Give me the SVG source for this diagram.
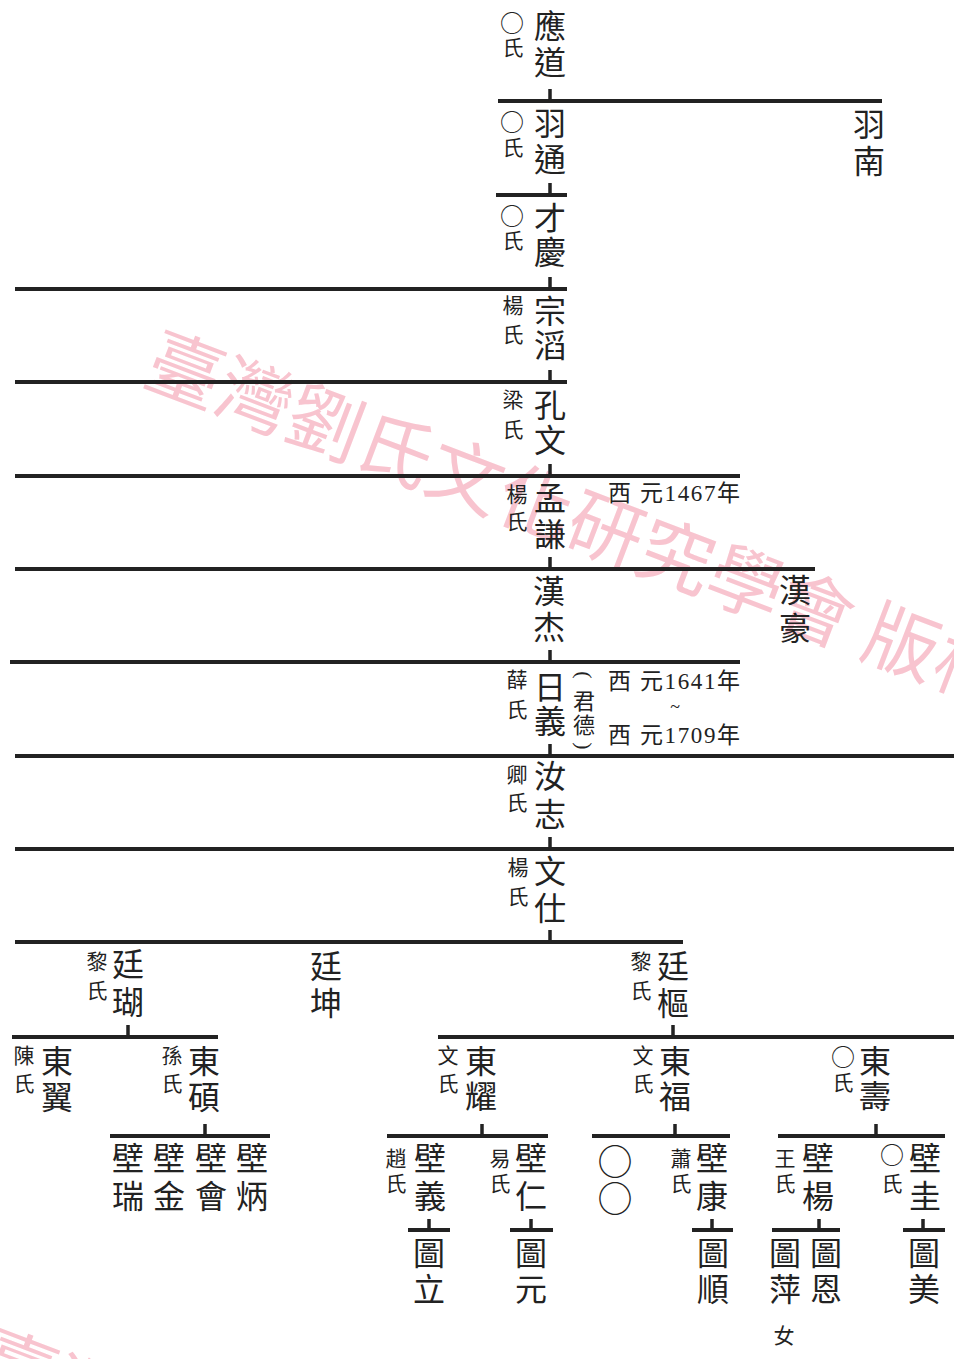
<svg xmlns="http://www.w3.org/2000/svg" width="954" height="1359" viewBox="0 0 954 1359">
<style>
text{font-family:"Liberation Serif","Noto Sans CJK TC",serif;fill:#222;text-anchor:middle;dominant-baseline:central}
.m{font-size:32px}
.s{font-size:21px}
.c{font-size:24px;font-family:"Noto Sans CJK TC",sans-serif}
.yr{font-size:23px;text-anchor:start}
.wm{font-family:"Noto Sans CJK TC",sans-serif;font-size:75px;fill:#f8c4cf;text-anchor:start}
.ln{stroke:#222;stroke-width:4;fill:none}
.tk{stroke:#222;stroke-width:3.5;fill:none}
</style>
<rect width="954" height="1359" fill="#fff"/>
<g id="watermark">
<text class="wm" transform="translate(152,352) rotate(20.8)">臺灣劉氏文化研究學會 版權</text>
<text class="wm" transform="translate(-15,1350) rotate(20.8)">臺灣劉氏文化研究學會 版權</text>
</g>
<g id="connectors">
<path class="ln" d="M498,101H882M496,195H567M15,289H567M15,382H567M15,476H740M15,569H815M10,662H740M15,756H954M15,849H954M15,942H683"/>
<path class="tk" d="M550,89V101M550,183V195M550,277V289M550,370V382M550,464V476M550,557V569M550,650V662M550,744V756M550,837V849M550,930V942"/>
<path class="ln" d="M12,1037H218M438,1037H954M110,1136H270M387,1136H548M592,1136H730M778,1136H945M408,1230H450M510,1230H553M692,1230H733M772,1230H840M903,1230H945"/>
<path class="tk" d="M128,1025V1037M673,1025V1037M205,1124V1136M482,1124V1136M675,1124V1136M876,1124V1136M429,1219V1230M531,1219V1230M712,1219V1230M819,1219V1230M923,1219V1230"/>
</g>
<g id="n-yingdao"><text class="m"><tspan x="550" y="27">應</tspan><tspan x="550" y="63">道</tspan></text><text class="c" x="512" y="21">○</text><text class="s" x="513" y="48">氏</text></g>
<g id="n-yutong"><text class="m"><tspan x="550" y="124">羽</tspan><tspan x="550" y="160">通</tspan></text><text class="c" x="512" y="120">○</text><text class="s" x="513" y="148">氏</text></g>
<g id="n-yunan"><text class="m"><tspan x="869" y="125">羽</tspan><tspan x="869" y="162">南</tspan></text></g>
<g id="n-caiqing"><text class="m"><tspan x="550" y="219">才</tspan><tspan x="550" y="253">慶</tspan></text><text class="c" x="512" y="214">○</text><text class="s" x="513" y="241">氏</text></g>
<g id="n-zongtao"><text class="m"><tspan x="550" y="312">宗</tspan><tspan x="550" y="346">滔</tspan></text><text class="s"><tspan x="513" y="306">楊</tspan><tspan x="513" y="335">氏</tspan></text></g>
<g id="n-kongwen"><text class="m"><tspan x="550" y="406">孔</tspan><tspan x="550" y="441">文</tspan></text><text class="s"><tspan x="513" y="400">梁</tspan><tspan x="513" y="430">氏</tspan></text></g>
<g id="n-mengqian"><text class="m"><tspan x="550" y="499">孟</tspan><tspan x="550" y="535">謙</tspan></text><text class="s"><tspan x="517" y="495">楊</tspan><tspan x="517" y="522">氏</tspan></text><text class="yr" x="608" y="493" textLength="132" lengthAdjust="spacing">西 元1467年</text></g>
<g id="n-hanjie"><text class="m"><tspan x="549" y="592">漢</tspan><tspan x="549" y="628">杰</tspan></text></g>
<g id="n-hanhao"><text class="m"><tspan x="795" y="591">漢</tspan><tspan x="795" y="629">豪</tspan></text></g>
<g id="n-riyi"><text class="m"><tspan x="550" y="688">日</tspan><tspan x="550" y="722">義</tspan></text><text class="s"><tspan x="517" y="680">薛</tspan><tspan x="517" y="710">氏</tspan></text>
<text style="font-size:22px" transform="translate(584,675) rotate(90)">(</text>
<text class="c" style="font-size:22px"><tspan x="584" y="699">君</tspan><tspan x="584" y="723">德</tspan></text>
<text style="font-size:22px" transform="translate(584,746) rotate(90)">)</text>
<text class="yr" x="608" y="681" textLength="132" lengthAdjust="spacing">西 元1641年</text><text x="675" y="707" style="font-size:18px">~</text><text class="yr" x="608" y="735" textLength="132" lengthAdjust="spacing">西 元1709年</text></g>
<g id="n-ruzhi"><text class="m"><tspan x="550" y="777">汝</tspan><tspan x="550" y="815">志</tspan></text><text class="s"><tspan x="517" y="775">卿</tspan><tspan x="517" y="803">氏</tspan></text></g>
<g id="n-wenshi"><text class="m"><tspan x="550" y="872">文</tspan><tspan x="550" y="909">仕</tspan></text><text class="s"><tspan x="518" y="868">楊</tspan><tspan x="518" y="897">氏</tspan></text></g>
<g id="n-tinghu"><text class="m"><tspan x="128" y="965">廷</tspan><tspan x="128" y="1003">瑚</tspan></text><text class="s"><tspan x="97" y="962">黎</tspan><tspan x="97" y="991">氏</tspan></text></g>
<g id="n-tingkun"><text class="m"><tspan x="326" y="967">廷</tspan><tspan x="326" y="1004">坤</tspan></text></g>
<g id="n-tingshu"><text class="m"><tspan x="673" y="967">廷</tspan><tspan x="673" y="1004">樞</tspan></text><text class="s"><tspan x="641" y="962">黎</tspan><tspan x="641" y="991">氏</tspan></text></g>
<g id="n-dongyi"><text class="m"><tspan x="57" y="1062">東</tspan><tspan x="57" y="1098">翼</tspan></text><text class="s"><tspan x="24" y="1056">陳</tspan><tspan x="24" y="1084">氏</tspan></text></g>
<g id="n-dongshuo"><text class="m"><tspan x="204" y="1062">東</tspan><tspan x="204" y="1098">碩</tspan></text><text class="s"><tspan x="172" y="1056">孫</tspan><tspan x="172" y="1084">氏</tspan></text></g>
<g id="n-dongyao"><text class="m"><tspan x="481" y="1062">東</tspan><tspan x="481" y="1097">耀</tspan></text><text class="s"><tspan x="448" y="1056">文</tspan><tspan x="448" y="1084">氏</tspan></text></g>
<g id="n-dongfu"><text class="m"><tspan x="675" y="1062">東</tspan><tspan x="675" y="1097">福</tspan></text><text class="s"><tspan x="643" y="1056">文</tspan><tspan x="643" y="1084">氏</tspan></text></g>
<g id="n-dongshou"><text class="m"><tspan x="875" y="1062">東</tspan><tspan x="875" y="1097">壽</tspan></text><text class="c" x="843" y="1055">○</text><text class="s" x="843" y="1083">氏</text></g>
<g id="n-birui"><text class="m"><tspan x="128" y="1159">壁</tspan><tspan x="128" y="1197">瑞</tspan></text></g>
<g id="n-bijin"><text class="m"><tspan x="169" y="1159">壁</tspan><tspan x="169" y="1197">金</tspan></text></g>
<g id="n-bihui"><text class="m"><tspan x="211" y="1159">壁</tspan><tspan x="211" y="1197">會</tspan></text></g>
<g id="n-bibing"><text class="m"><tspan x="252" y="1159">壁</tspan><tspan x="252" y="1197">炳</tspan></text></g>
<g id="n-biyi"><text class="m"><tspan x="430" y="1159">壁</tspan><tspan x="430" y="1197">義</tspan></text><text class="s"><tspan x="396" y="1159">趙</tspan><tspan x="396" y="1184">氏</tspan></text></g>
<g id="n-biren"><text class="m"><tspan x="531" y="1159">壁</tspan><tspan x="531" y="1197">仁</tspan></text><text class="s"><tspan x="500" y="1159">易</tspan><tspan x="500" y="1184">氏</tspan></text></g>
<g id="n-unknown"><text class="c" style="font-size:35px"><tspan x="615" y="1159">○</tspan><tspan x="615" y="1196">○</tspan></text></g>
<g id="n-bikang"><text class="m"><tspan x="712" y="1159">壁</tspan><tspan x="712" y="1197">康</tspan></text><text class="s"><tspan x="681" y="1159">蕭</tspan><tspan x="681" y="1184">氏</tspan></text></g>
<g id="n-biyang"><text class="m"><tspan x="818" y="1159">壁</tspan><tspan x="818" y="1197">楊</tspan></text><text class="s"><tspan x="785" y="1159">王</tspan><tspan x="785" y="1184">氏</tspan></text></g>
<g id="n-bigui"><text class="m"><tspan x="925" y="1159">壁</tspan><tspan x="925" y="1197">圭</tspan></text><text class="c" x="892" y="1153">○</text><text class="s" x="892" y="1184">氏</text></g>
<g id="n-tuli"><text class="m"><tspan x="429" y="1254">圖</tspan><tspan x="429" y="1290">立</tspan></text></g>
<g id="n-tuyuan"><text class="m"><tspan x="531" y="1254">圖</tspan><tspan x="531" y="1290">元</tspan></text></g>
<g id="n-tushun"><text class="m"><tspan x="713" y="1254">圖</tspan><tspan x="713" y="1290">順</tspan></text></g>
<g id="n-tuping"><text class="m"><tspan x="785" y="1254">圖</tspan><tspan x="785" y="1290">萍</tspan></text><text class="s" x="784" y="1336">女</text></g>
<g id="n-tuen"><text class="m"><tspan x="826" y="1254">圖</tspan><tspan x="826" y="1290">恩</tspan></text></g>
<g id="n-tumei"><text class="m"><tspan x="924" y="1254">圖</tspan><tspan x="924" y="1290">美</tspan></text></g>
</svg>
